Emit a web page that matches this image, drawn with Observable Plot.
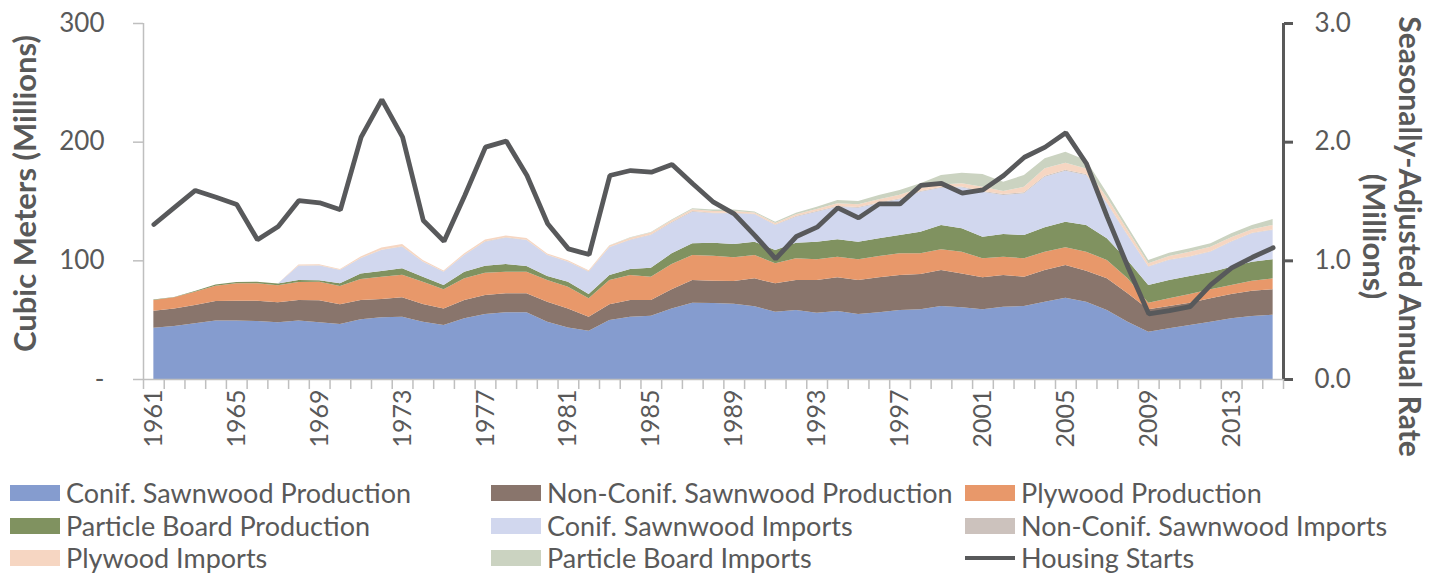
<!DOCTYPE html>
<html>
<head>
<meta charset="utf-8">
<script src="https://cdn.jsdelivr.net/npm/d3@7"></script>
<script src="https://cdn.jsdelivr.net/npm/@observablehq/plot@0.6"></script>
<style>
  html, body { margin: 0; padding: 0; background: #fff; }
  #wrap { position: relative; width: 1437px; height: 573px; font-family: Lato, "Open Sans", sans-serif; color: #595959; }
  #legend { position: absolute; left: 0; top: 0; width: 1437px; height: 573px; pointer-events: none; }
  .item { position: absolute; display: flex; align-items: center; font-size: 27px; line-height: 32px; white-space: nowrap; }
  .sw { width: 50px; height: 16px; margin-right: 6px; }
  .ln { width: 50px; height: 4px; margin-right: 6px; }
</style>
</head>
<body>
<div id="wrap"><div id="chart"></div><div id="legend"></div></div>
<script>
const years = [1961,1962,1963,1964,1965,1966,1967,1968,1969,1970,1971,1972,1973,1974,1975,1976,1977,1978,1979,1980,
  1981,1982,1983,1984,1985,1986,1987,1988,1989,1990,1991,1992,1993,1994,1995,1996,1997,1998,1999,2000,
  2001,2002,2003,2004,2005,2006,2007,2008,2009,2010,2011,2012,2013,2014,2015];

const seriesNames = ["Conif. Sawnwood Production","Non-Conif. Sawnwood Production","Plywood Production",
  "Particle Board Production","Conif. Sawnwood Imports","Non-Conif. Sawnwood Imports","Plywood Imports","Particle Board Imports"];
const seriesColors = ["#859CCF","#89756C","#E8986A","#809260","#D1D7EE","#CCC2BD","#F6D6C2","#CBD3C1"];

const conifProd = [43.2,44.7,46.9,49.2,49.2,48.9,47.8,49.2,47.8,46.3,50.3,52.0,52.5,48.3,45.5,51.1,54.8,56.2,56.2,48.3,
  43.5,40.7,49.7,52.5,53.4,59.5,64.3,64.0,63.5,61.4,56.7,58.1,55.9,57.3,54.8,56.2,58.1,58.7,61.5,60.4,
  58.7,60.9,61.5,65.2,68.5,65.2,58.1,48.3,39.9,42.7,45.5,48.3,51.1,53.1,54.2];
const nonConifProd = [14.4,14.8,15.5,16.5,16.8,17.1,16.8,17.4,18.6,16.6,16.3,15.4,16.3,14.9,14.0,15.5,16.0,16.0,16.0,16.9,
  16.0,11.8,13.2,14.1,13.2,16.1,19.1,18.8,19.1,23.4,23.9,25.3,27.5,28.4,28.6,29.5,29.5,29.8,30.3,28.6,
  27.0,26.7,24.7,26.6,27.6,26.1,26.7,23.9,18.8,18.8,18.8,19.7,20.5,21.3,21.4];
const plywoodProd = [9.0,9.3,11.2,12.9,14.6,14.6,14.3,15.1,15.5,15.5,17.7,18.8,19.1,18.8,16.1,18.2,18.8,18.2,18.2,18.2,
  18.3,15.5,20.5,21.0,19.6,21.3,21.1,21.0,19.9,19.7,16.9,18.3,17.5,17.4,17.5,17.9,18.3,17.4,17.5,18.3,
  16.0,15.5,15.5,15.5,14.9,16.0,15.5,12.6,5.6,6.5,7.3,7.6,7.6,8.4,9.2];
const particleProd = [0.3,0.4,0.6,1.0,1.2,1.3,1.5,1.7,1.4,2.2,4.7,4.8,5.4,4.2,3.6,5.6,5.9,6.5,4.8,3.4,
  4.2,3.6,4.2,5.1,7.6,9.0,9.8,11.1,11.3,11.2,11.2,13.2,14.8,14.6,14.8,15.0,15.4,18.2,20.5,19.7,
  18.2,19.1,19.6,20.5,21.6,22.5,18.3,15.2,14.9,15.4,15.2,14.3,15.4,16.0,16.1];
const conifImports = [0,0,0,0,0,0,0,12.0,12.4,11.2,12.7,17.7,18.2,12.6,11.2,14.1,20.2,22.2,21.9,17.7,
  16.8,18.8,23.4,24.4,27.5,25.8,26.7,24.7,25.8,23.1,21.1,21.9,25.3,27.5,28.7,29.5,30.1,33.7,31.4,34.5,
  37.9,32.9,35.2,42.7,42.9,42.1,29.4,21.0,15.4,16.9,16.3,17.4,21.1,24.0,24.7];
const nonConifImports = [0,0,0,0,0,0,0,0.2,0.2,0.2,0.3,0.3,0.3,0.2,0.2,0.3,0.3,0.3,0.3,0.3,
  0.3,0.3,0.3,0.4,0.4,0.5,0.5,0.5,0.5,0.4,0.4,0.5,0.5,0.6,0.6,0.7,0.7,0.7,0.7,0.7,
  0.7,0.8,0.8,0.8,0.8,0.8,0.7,0.5,0.4,0.4,0.4,0.4,0.4,0.4,0.4];
const plywoodImports = [0,0,0,0,0,0,0,0.8,0.9,0.8,1.3,1.8,2.0,1.2,0.9,1.2,1.5,1.6,1.4,1.0,
  1.0,1.0,1.3,1.6,1.7,1.6,1.5,1.5,1.5,1.2,1.2,1.5,1.8,2.2,2.2,2.6,3.2,2.5,2.1,2.7,
  3.5,2.5,4.7,6.2,6.0,4.6,4.5,4.1,2.5,2.9,3.8,3.8,3.3,2.9,3.8];
const particleImports = [0,0,0,0,0,0,0,0,0,0,0,0,0,0,0,0,0,0,0,0,
  0,0,0.2,0.4,0.5,0.6,0.8,1.2,1.2,0.8,1.2,1.3,1.9,2.8,2.8,3.7,4.0,4.0,7.9,9.0,
  10.7,7.9,9.9,8.5,9.2,7.0,3.8,2.9,2.8,2.8,2.8,2.8,3.4,3.7,5.0];
const housingStarts = [1.306,1.450,1.593,1.536,1.475,1.177,1.289,1.508,1.489,1.430,2.042,2.359,2.042,1.340,1.165,1.550,1.958,2.009,1.719,1.312,
  1.101,1.053,1.719,1.761,1.747,1.812,1.649,1.494,1.396,1.213,1.017,1.205,1.284,1.447,1.362,1.480,1.480,1.635,1.652,1.570,
  1.598,1.719,1.873,1.958,2.079,1.818,1.368,0.946,0.553,0.581,0.615,0.800,0.940,1.030,1.110];

const leftTicks = [0, 100, 200, 300];
const rightTicks = [0, 1, 2, 3];
const labelYears = [1961,1965,1969,1973,1977,1981,1985,1989,1993,1997,2001,2005,2009,2013];

const seriesValues = [conifProd, nonConifProd, plywoodProd, particleProd, conifImports, nonConifImports, plywoodImports, particleImports];
const rows = [];
seriesNames.forEach((s, i) => years.forEach((yr, j) => rows.push({year: yr, series: s, value: seriesValues[i][j]})));
const housing = years.map((yr, j) => ({year: yr, value: housingStarts[j]}));
const boundaries = years.map(y => y - 0.5).concat([years[years.length - 1] + 0.5]);

const FONT = "Lato, 'Open Sans', sans-serif";
const GRAY = "#595959";

const chart = Plot.plot({
  width: 1437,
  height: 470,
  marginLeft: 143,
  marginRight: 154,
  marginTop: 23,
  marginBottom: 91,
  style: {fontFamily: FONT, color: GRAY, background: "#fff", overflow: "visible"},
  x: {domain: [years[0] - 0.5, years[years.length - 1] + 0.5]},
  y: {domain: [0, 300]},
  color: {domain: seriesNames, range: seriesColors},
  marks: [
    Plot.areaY(rows, Plot.stackY({x: "year", y: "value", z: "series", fill: "series", order: seriesNames})),
    Plot.line(housing, {x: "year", y: d => d.value * 100, stroke: "#58595B", strokeWidth: 4.8, strokeLinejoin: "miter"}),
    // left axis
    Plot.ruleX([years[0] - 0.5], {stroke: "#BFBFBF", strokeWidth: 1.5}),
    Plot.axisY({anchor: "left", ticks: leftTicks, tickSize: 10, tickPadding: 29, fontSize: 26,
      tickFormat: d => d === 0 ? "-" : String(d), stroke: "#BFBFBF", strokeWidth: 1.5, fill: GRAY, label: null}),
    // right axis
    Plot.ruleX([years[years.length - 1] + 0.5], {stroke: "#595959", strokeWidth: 3}),
    Plot.axisY({anchor: "right", ticks: rightTicks.map(d => d * 100), tickSize: 9, tickPadding: 22, fontSize: 26,
      tickFormat: d => (d / 100).toFixed(1), stroke: "#595959", strokeWidth: 3, fill: GRAY, label: null}),
    // x axis
    Plot.ruleY([0], {stroke: "#BFBFBF", strokeWidth: 1.5}),
    Plot.axisX({ticks: boundaries, tickSize: 10, tickFormat: () => "", stroke: "#BFBFBF", strokeWidth: 1.5, label: null}),
    Plot.axisX({ticks: labelYears, tickSize: 0, tickPadding: 10, tickRotate: -90, fontSize: 25, tickFormat: d => String(d), fill: GRAY, label: null}),
    // axis titles
    Plot.text(["Cubic Meters (Millions)"], {frameAnchor: "left", textAnchor: "middle", dx: -117, dy: -8, rotate: -90, fontSize: 31, fontWeight: "bold", fill: GRAY, text: d => d}),
    Plot.text(["Seasonally-Adjusted Annual Rate"], {frameAnchor: "right", textAnchor: "middle", dx: 125, dy: 35, rotate: 90, fontSize: 30, fontWeight: "bold", fill: GRAY, text: d => d}),
    Plot.text(["(Millions)"], {frameAnchor: "right", textAnchor: "middle", dx: 89, dy: 35, rotate: 90, fontSize: 31, fontWeight: "bold", fill: GRAY, text: d => d})
  ]
});
document.getElementById("chart").appendChild(chart);

// legend
const legend = document.getElementById("legend");
const cols = [10, 491, 965];
const rowsY = [477, 510, 542];
const entries = seriesNames.map((s, i) => ({label: s, color: seriesColors[i], line: false}));
entries.push({label: "Housing Starts", color: "#58595B", line: true});
entries.forEach((e, i) => {
  const div = document.createElement("div");
  div.className = "item";
  div.style.left = cols[i % 3] + "px";
  div.style.top = rowsY[Math.floor(i / 3)] + "px";
  const sw = document.createElement("span");
  sw.className = e.line ? "ln" : "sw";
  sw.style.background = e.color;
  const tx = document.createElement("span");
  tx.textContent = e.label;
  div.appendChild(sw);
  div.appendChild(tx);
  legend.appendChild(div);
});
</script>
</body>
</html>
